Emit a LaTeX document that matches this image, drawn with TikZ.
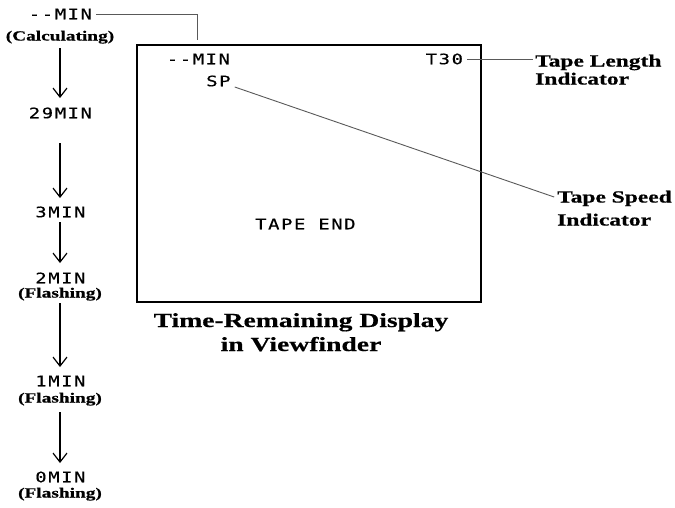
\documentclass[tikz,border=0pt]{standalone}
\usepackage{fontspec}
\usetikzlibrary{arrows.meta,calc}
\newfontfamily\lblfont{Liberation Serif}[FakeStretch=1.38,FakeBold=0.6]
\newfontfamily\dspfont{DejaVu Sans Mono}[FakeStretch=1.3,LetterSpace=11,FakeBold=0.4]
\newcommand\dsptext[1]{\kern0.055em#1}
\begin{document}
\begin{tikzpicture}[x=1pt,y=-1pt,
  disp/.style={inner sep=0pt,text height=10.5pt,text depth=0pt,font=\dspfont\fontsize{14.5}{16}\selectfont},
  note/.style={inner sep=0pt,text height=10pt,text depth=3pt,font=\lblfont\bfseries\fontsize{14}{16}\selectfont},
  label/.style={inner sep=0pt,anchor=west,text height=12pt,text depth=3pt,font=\lblfont\bfseries\fontsize{17}{19}\selectfont},
  title/.style={inner sep=0pt,text height=14pt,text depth=4pt,font=\lblfont\bfseries\fontsize{20}{24}\selectfont},
  flow/.style={draw=black,line width=1.2pt,-{Straight Barb[length=9pt,width=14pt,line width=1.2pt]}},
  leader/.style={draw=black!65,line width=0.9pt},
  screen/.style={draw=black,line width=1.1pt,minimum width=344pt,minimum height=257pt,inner sep=0pt}
]
\useasboundingbox (0,0) rectangle (675,507);
% left column
\node[disp] (m0) at (60,14) {\dsptext{--MIN}};
\node[note] (calc) at (60,37) {(Calculating)};
\node[disp] (m29) at (60,113) {\dsptext{29MIN}};
\node[disp] (m3) at (60,212) {\dsptext{3MIN}};
\node[disp] (m2) at (60,278) {\dsptext{2MIN}};
\node[note] (fl2) at (60,294) {(Flashing)};
\node[disp] (m1) at (60,381) {\dsptext{1MIN}};
\node[note] (fl1) at (60,399) {(Flashing)};
\node[disp] (m00) at (60,477) {\dsptext{0MIN}};
\node[note] (fl0) at (60,494) {(Flashing)};
\draw[flow,shorten <=4.5pt,shorten >=9.5pt] (calc) -- (m29);
\draw[flow,shorten <=25pt,shorten >=8.5pt] (m29) -- (m3);
\draw[flow,shorten <=5pt,shorten >=9.5pt] (m3) -- (m2);
\draw[flow,shorten <=2.5pt,shorten >=8.5pt] (fl2) -- (m1);
\draw[flow,shorten <=6.5pt,shorten >=8.5pt] (fl1) -- (m00);
% screen
\node[screen] (scr) at (309,173.5) {};
\node[disp] (smin) at (198,59) {\dsptext{--MIN}};
\node[disp] (t30) at (444,59) {\dsptext{T30}};
\node[disp] (sp) at (218,81) {\dsptext{SP}};
\node[disp] (tend) at (305,224) {\dsptext{TAPE END}};
\node[title] (ti1) at (301,322) {Time-Remaining Display};
\node[title] (ti2) at (301,346) {in Viewfinder};
% labels
\node[label] (tl1) at (535,62) {Tape Length};
\node[label] (tl2) at (535,80) {Indicator};
\node[label] (ts1) at (557,198) {Tape Speed};
\node[label] (ts2) at (557,221) {Indicator};
% leaders
\coordinate (c1) at (197,40);
\draw[leader,shorten <=4pt] (m0.east) -| (c1);
\draw[leader,shorten <=4pt,shorten >=2pt] (t30.east) -- (t30.east -| tl1.west);
\draw[leader,shorten >=3pt] ($(sp.east)+(4,6)$) -- (ts1.west);
\end{tikzpicture}
\end{document}
